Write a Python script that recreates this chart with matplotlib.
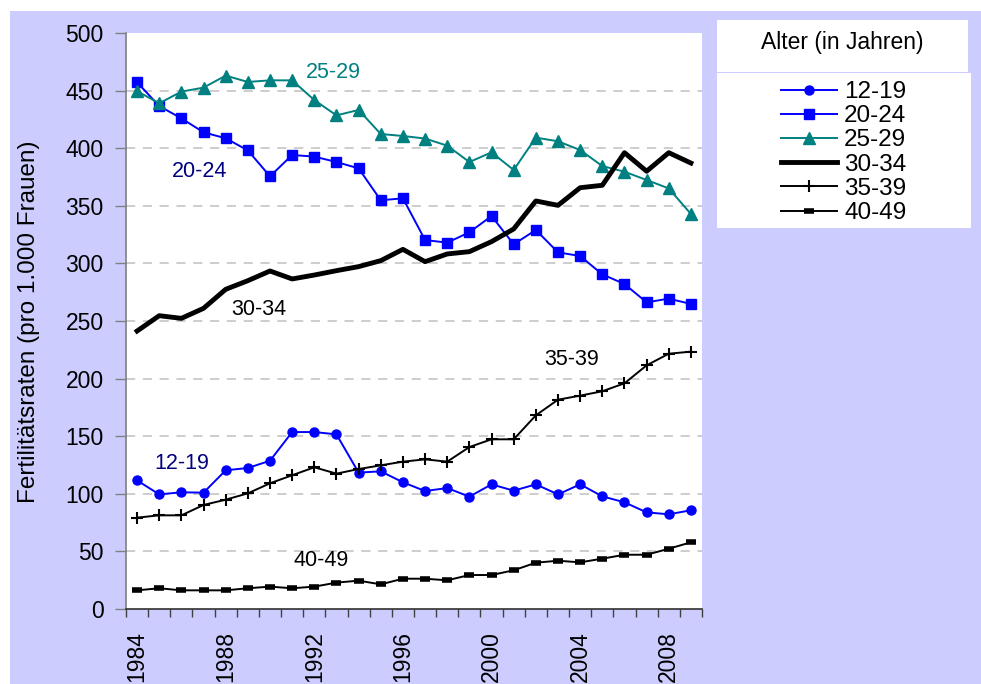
import matplotlib
matplotlib.use("Agg")
import matplotlib.pyplot as plt
from matplotlib.patches import Rectangle
import numpy as np

plt.rcParams['font.family'] = ['Liberation Sans', 'DejaVu Sans']

years = list(range(1984, 2010))
tick_years = [1984, 1988, 1992, 1996, 2000, 2004, 2008]

age_12_19 = [111.6, 99.5, 101.3, 101.0, 120.4, 122.4, 128.7, 153.6, 153.6, 151.6, 118.4, 119.5, 110.0,
             102.4, 105.0, 97.5, 108.2, 102.7, 108.2, 99.5, 108.2, 97.8, 92.6, 83.9, 82.2, 85.7]
age_20_24 = [457.2, 436.6, 425.9, 413.8, 408.6, 398.1, 375.6, 394.1, 392.7, 388.0, 382.5, 354.8, 356.5,
             320.3, 318.0, 327.0, 341.1, 316.6, 329.0, 309.6, 306.4, 290.5, 282.1, 266.2, 269.4, 264.8]
age_25_29 = [449.5, 439.0, 449.1, 452.6, 463.0, 457.5, 458.9, 458.9, 441.8, 428.5, 433.2, 412.3, 410.6,
             408.4, 402.2, 388.0, 396.4, 381.1, 409.2, 406.0, 398.4, 384.5, 379.6, 372.4, 365.1, 342.9]
age_30_34 = [241.3, 254.6, 252.3, 261.0, 277.5, 285.0, 293.4, 286.5, 289.9, 293.7, 297.2, 302.4, 312.2,
             301.5, 308.2, 310.2, 318.9, 329.9, 354.2, 350.4, 365.7, 367.8, 396.1, 380.0, 396.1, 387.1]
age_35_39 = [79.3, 81.3, 81.3, 90.3, 94.9, 100.4, 109.1, 116.1, 123.0, 117.5, 121.5, 124.7, 127.9,
             129.9, 127.9, 140.6, 147.3, 147.3, 168.1, 181.7, 185.2, 189.0, 195.9, 211.5, 221.6, 223.4]
age_40_49 = [16.2, 18.0, 16.2, 16.2, 16.2, 18.0, 19.4, 18.0, 19.4, 22.9, 24.6, 21.4, 26.3,
             26.3, 24.9, 29.5, 29.5, 33.6, 40.2, 41.9, 40.5, 43.7, 47.1, 47.1, 52.3, 57.9]

series_labels = ['12-19', '20-24', '25-29', '30-34', '35-39', '40-49']
y_ticks = [0, 50, 100, 150, 200, 250, 300, 350, 400, 450, 500]

W, H = 981, 684
fig = plt.figure(figsize=(W / 100, H / 100), dpi=100)
fig.patch.set_facecolor('white')
fig.patches.append(Rectangle((10 / W, 0), 1 - 10 / W, 1 - 11 / H, transform=fig.transFigure,
                             facecolor='#CCCCFF', edgecolor='none', zorder=-10))
# legend boxes
fig.patches.append(Rectangle((717 / W, 1 - 72 / H), 251 / W, 52 / H, transform=fig.transFigure,
                             facecolor='white', edgecolor='none', zorder=-5))
fig.patches.append(Rectangle((717 / W, 1 - 228 / H), 254 / W, 155 / H, transform=fig.transFigure,
                             facecolor='white', edgecolor='none', zorder=-5))

ax = fig.add_axes([126 / W, (H - 609) / H, 576 / W, 576 / H])
ax.set_facecolor('white')
x = np.arange(len(years))

l1, = ax.plot(x, age_12_19, color='#0000FF', lw=1.4, marker='o', ms=6.5, mec='#0000FF', zorder=5)
l2, = ax.plot(x, age_20_24, color='#0000FF', lw=1.4, marker='s', ms=6.5, mec='#0000FF', zorder=5)
l3, = ax.plot(x, age_25_29, color='#008080', lw=1.4, marker='^', ms=8, mec='#008080', zorder=5)
l4, = ax.plot(x, age_30_34, color='black', lw=3.5, zorder=5)
l5, = ax.plot(x, age_35_39, color='black', lw=1.4, marker='+', ms=9, mew=1.5, zorder=5)
l6, = ax.plot(x, age_40_49, color='black', lw=1.4, marker='_', ms=7, mew=4, zorder=5)

ax.set_xlim(-0.5, len(years) - 0.5)
ax.set_ylim(0, 500)
ax.set_yticks(y_ticks)
ax.set_yticklabels([str(v) for v in y_ticks], fontsize=16.5)
for v in y_ticks[1:-1]:
    ax.axhline(v, color='#C0C0C0', lw=1.1, ls=(0, (6, 5)), zorder=1)

ax.set_xticks(np.arange(-0.5, len(years), 1.0))
ax.set_xticklabels([])
ax.set_xticks([years.index(y) for y in tick_years], minor=True)
ax.set_xticklabels([str(y) for y in tick_years], minor=True, rotation=90, fontsize=16.5, va='top')
ax.tick_params(axis='x', which='major', direction='out', length=6, width=1, color='#404040')
ax.tick_params(axis='x', which='minor', length=0, pad=16)
ax.tick_params(axis='y', direction='out', length=8, width=1, color='#808080', pad=8)

for s in ['top', 'right']:
    ax.spines[s].set_visible(False)
ax.spines['left'].set_color('#808080')
ax.spines['left'].set_linewidth(1.2)
ax.spines['bottom'].set_color('#303030')
ax.spines['bottom'].set_linewidth(1.2)

fig.text(29 / W, 1 - 322 / H, 'Fertilitätsraten (pro 1.000 Frauen)', rotation=90,
         ha='center', va='center', fontsize=17.5)

# series annotations
ann_size = 15.5
ax.text(8.84, 466, '25-29', color='#008080', fontsize=ann_size, ha='center', va='center')
ax.text(2.80, 380, '20-24', color='#000080', fontsize=ann_size, ha='center', va='center')
ax.text(5.50, 260, '30-34', color='black', fontsize=ann_size, ha='center', va='center')
ax.text(2.00, 126, '12-19', color='#000080', fontsize=ann_size, ha='center', va='center')
ax.text(19.6, 217, '35-39', color='black', fontsize=ann_size, ha='center', va='center')
ax.text(8.30, 42, '40-49', color='black', fontsize=ann_size, ha='center', va='center')

fig.text(842 / W, 1 - 42 / H, 'Alter (in Jahren)', ha='center', va='center', fontsize=16.5)
fig.legend([l1, l2, l3, l4, l5, l6], series_labels, loc='upper left',
           bbox_to_anchor=(781 / W, 1 - 81 / H), frameon=False, fontsize=17.5,
           handlelength=2.3, handletextpad=0.3, labelspacing=0.09, borderpad=0,
           borderaxespad=0)

fig.savefig('out.png', dpi=100)
